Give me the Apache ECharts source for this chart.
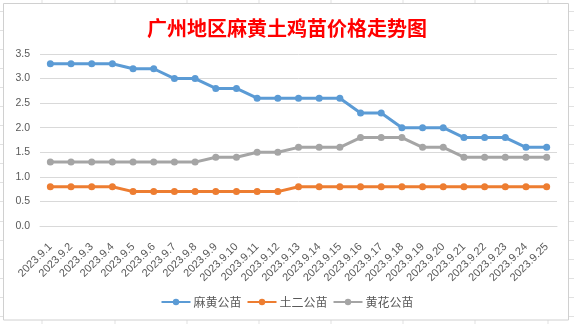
<!DOCTYPE html>
<html>
<head>
<meta charset="utf-8">
<style>
  html, body { margin: 0; padding: 0; background: #ffffff; }
  #chart { width: 574px; height: 324px; }
</style>
<script src="https://cdn.jsdelivr.net/npm/echarts@6/dist/echarts.min.js"></script>
</head>
<body>
<div id="chart"></div>
<script>
// Daily chick prices, Guangzhou, September 2023
const dates = [
  '2023.9.1', '2023.9.2', '2023.9.3', '2023.9.4', '2023.9.5', '2023.9.6', '2023.9.7',
  '2023.9.8', '2023.9.9', '2023.9.10', '2023.9.11', '2023.9.12', '2023.9.13', '2023.9.14',
  '2023.9.15', '2023.9.16', '2023.9.17', '2023.9.18', '2023.9.19', '2023.9.20', '2023.9.21',
  '2023.9.22', '2023.9.23', '2023.9.24', '2023.9.25'
];
const mahuangMale = [3.3, 3.3, 3.3, 3.3, 3.2, 3.2, 3.0, 3.0, 2.8, 2.8, 2.6, 2.6, 2.6, 2.6, 2.6, 2.3, 2.3, 2.0, 2.0, 2.0, 1.8, 1.8, 1.8, 1.6, 1.6];
const tuerMale    = [0.8, 0.8, 0.8, 0.8, 0.7, 0.7, 0.7, 0.7, 0.7, 0.7, 0.7, 0.7, 0.8, 0.8, 0.8, 0.8, 0.8, 0.8, 0.8, 0.8, 0.8, 0.8, 0.8, 0.8, 0.8];
const huanghuaMale = [1.3, 1.3, 1.3, 1.3, 1.3, 1.3, 1.3, 1.3, 1.4, 1.4, 1.5, 1.5, 1.6, 1.6, 1.6, 1.8, 1.8, 1.8, 1.6, 1.6, 1.4, 1.4, 1.4, 1.4, 1.4];
const seriesNames = ['麻黄公苗', '土二公苗', '黄花公苗'];
const yTicks = { min: 0, max: 3.5, step: 0.5 };

const colors = ['#5B9BD5', '#ED7D31', '#A5A5A5'];
const textGray = '#595959';
const lineGray = '#D9D9D9';
const baseFont = 'Liberation Sans, Arial, sans-serif';
const cjkFont = '"Noto Sans CJK SC", sans-serif';

// sheet cell lines around the embedded chart frame
const sheetLines = [];
[42, 115, 187, 259, 331, 403, 475, 548].forEach(function (x) {
  sheetLines.push({ type: 'line', shape: { x1: x, y1: 0, x2: x, y2: 324 }, style: { stroke: '#E1E1E1', lineWidth: 1 }, silent: true, z: -2 });
});
for (let y = 10.5; y < 324; y += 19.1) {
  sheetLines.push({ type: 'line', shape: { x1: 0, y1: Math.round(y) + 0.5, x2: 574, y2: Math.round(y) + 0.5 }, style: { stroke: '#E1E1E1', lineWidth: 1 }, silent: true, z: -2 });
}
sheetLines.push({
  type: 'rect', shape: { x: 3.5, y: 3.5, width: 565, height: 316.5 },
  style: { fill: '#ffffff', stroke: '#D0D0D0', lineWidth: 1 }, silent: true, z: -1
});

const chart = echarts.init(document.getElementById('chart'), null, { renderer: 'canvas' });

chart.setOption({
  animation: false,
  backgroundColor: '#ffffff',
  color: colors,
  graphic: { elements: sheetLines },
  title: {
    text: '广州地区麻黄土鸡苗价格走势图',
    left: 'center',
    top: 13,
    textStyle: { color: '#FF0000', fontSize: 20, fontWeight: 'bold', fontFamily: cjkFont }
  },
  legend: {
    data: seriesNames,
    bottom: 11,
    left: 'center',
    itemWidth: 29,
    itemHeight: 8,
    itemGap: 5,
    textStyle: { color: textGray, fontSize: 12, fontFamily: cjkFont, padding: [0, 0, 0, -2] }
  },
  grid: { left: 40, right: 17, top: 54, bottom: 98, containLabel: false },
  xAxis: {
    type: 'category',
    data: dates,
    boundaryGap: true,
    axisLine: { show: true, lineStyle: { color: lineGray, width: 1 } },
    axisTick: { show: false },
    axisLabel: {
      rotate: 45,
      interval: 0,
      margin: 19,
      color: textGray,
      fontSize: 11,
      fontFamily: baseFont
    },
    splitLine: { show: false }
  },
  yAxis: {
    type: 'value',
    min: yTicks.min,
    max: yTicks.max,
    interval: yTicks.step,
    axisLine: { show: false },
    axisTick: { show: false },
    axisLabel: {
      margin: 10,
      color: textGray,
      fontSize: 10.5,
      fontFamily: baseFont,
      formatter: function (v) { return v.toFixed(1); }
    },
    splitLine: { lineStyle: { color: lineGray, width: 1 } }
  },
  series: [mahuangMale, tuerMale, huanghuaMale].map(function (vals, i) {
    return {
      name: seriesNames[i],
      type: 'line',
      data: vals,
      symbol: 'circle',
      symbolSize: 7,
      showSymbol: true,
      lineStyle: { width: 3, color: colors[i] },
      itemStyle: { color: colors[i] }
    };
  })
});
</script>
</body>
</html>
